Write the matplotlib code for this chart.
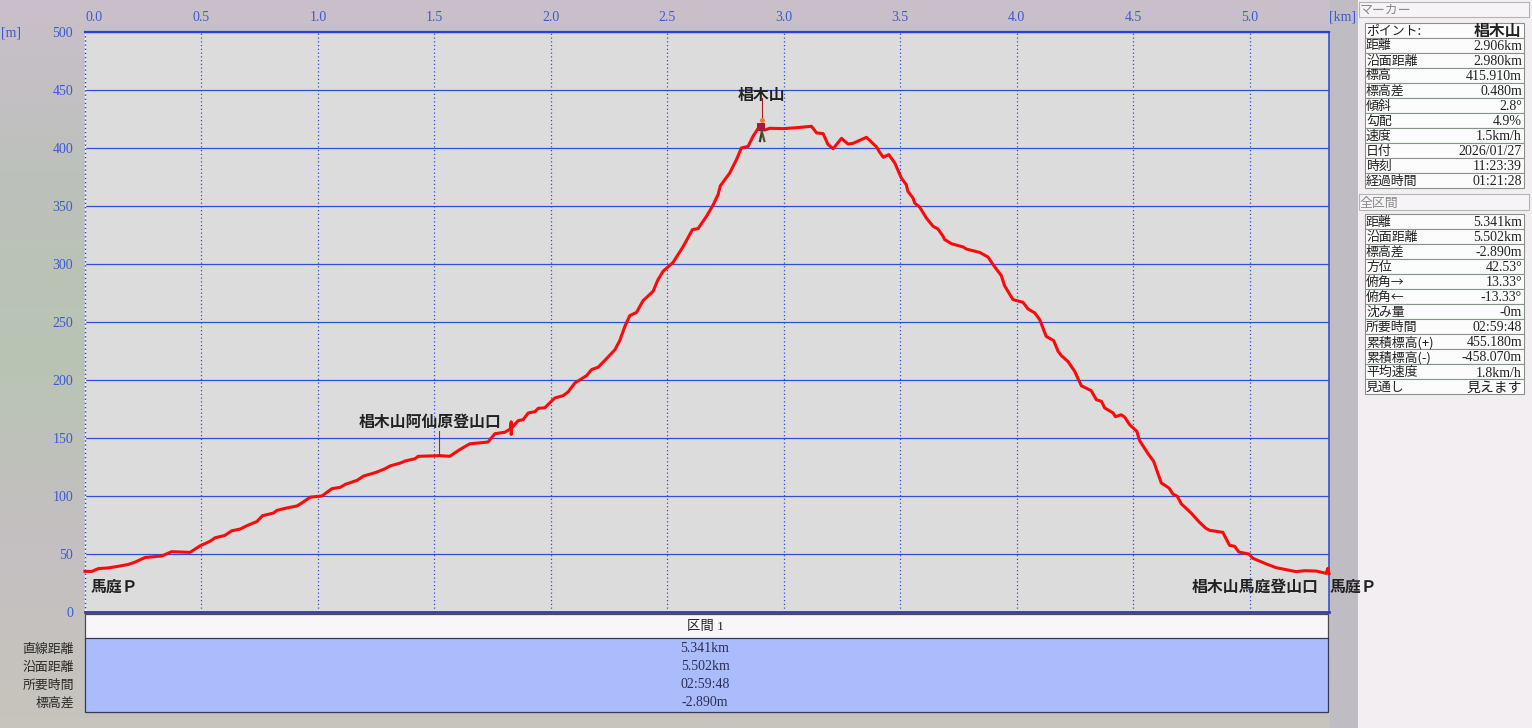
#!/usr/bin/env python3
"""
Elevation profile of the walk, with the marker and section panels on the right.
"""
import matplotlib
matplotlib.use('Agg')
import matplotlib.pyplot as plt
from matplotlib.colors import LinearSegmentedColormap
from matplotlib.patches import Rectangle
import numpy as np

plt.rcParams['font.family'] = ['Noto Sans CJK JP', 'DejaVu Sans']

# Profile
dist_km = [0, .03, .057, .10, .143, .186, .215, .258, .33, .372, .415, .451, .494, .537, .559,
           .60, .63, .666, .695, .738, .762, .809, .824, .86, .91, .931, .967, 1.017, 1.06,
           1.096, 1.117, 1.168, 1.196, 1.232, 1.254, 1.289, 1.311, 1.354, 1.375, 1.418, 1.43,
           1.524, 1.566, 1.609, 1.652, 1.73, 1.76, 1.803, 1.826, 1.83, 1.83, 1.832, 1.86,
           1.881, 1.903, 1.932, 1.946, 1.974, 2.017, 2.053, 2.074, 2.103, 2.153, 2.175, 2.203,
           2.239, 2.275, 2.296, 2.318, 2.339, 2.368, 2.396, 2.439, 2.46, 2.482, 2.525, 2.568,
           2.608, 2.632, 2.668, 2.697, 2.718, 2.728, 2.768, 2.797, 2.818, 2.847, 2.868, 2.897,
           2.918, 2.94, 2.997, 3.054, 3.119, 3.141, 3.169, 3.19, 3.212, 3.248, 3.276, 3.297,
           3.355, 3.398, 3.412, 3.427, 3.451, 3.477, 3.505, 3.526, 3.533, 3.555, 3.562, 3.584,
           3.612, 3.641, 3.662, 3.684, 3.691, 3.72, 3.77, 3.784, 3.841, 3.877, 3.899, 3.934,
           3.948, 3.967, 3.984, 4.027, 4.049, 4.078, 4.099, 4.127, 4.159, 4.178, 4.192, 4.22,
           4.249, 4.264, 4.278, 4.32, 4.342, 4.364, 4.378, 4.414, 4.424, 4.449, 4.464, 4.485,
           4.516, 4.528, 4.564, 4.588, 4.603, 4.621, 4.654, 4.671, 4.69, 4.706, 4.749, 4.785,
           4.811, 4.828, 4.885, 4.914, 4.936, 4.954, 4.997, 5.014, 5.072, 5.114, 5.2, 5.236,
           5.286, 5.329, 5.336, 5.341]
elev_m = [35, 35, 37.4, 38, 39.4, 41, 43, 47, 48.3, 52, 51.7, 51.4, 57, 61, 64,
          66, 70, 71.5, 74.4, 78, 83, 85.3, 87.6, 89.4, 91.4, 94, 99, 100, 106.3,
          107.5, 110, 113.5, 117.2, 119.3, 120.7, 123.6, 126, 128.4, 130.2, 132.2, 134.2,
          134.8, 134.2, 140, 145, 146.5, 153.7, 155, 157.8, 164, 153, 158.6, 165,
          165.8, 171.6, 172.7, 175.6, 176, 184.5, 186.5, 189.7, 197.4, 203.7, 209, 211,
          218.4, 226, 234, 246.3, 255.5, 258.3, 268.4, 276.4, 286.5, 293.7, 301.4, 315,
          329.6, 330.5, 341, 351, 359.8, 367.5, 378.4, 390, 400, 401.4, 410, 419,
          415.5, 417, 416.7, 417.5, 418.7, 413, 412.4, 403, 399.4, 408.3, 403.4, 404,
          409.2, 401, 396.3, 392, 394.3, 387, 374, 368.4, 362.6, 356.9, 352.6, 348.9,
          339.7, 332.5, 330.2, 323.9, 321, 317.5, 314.7, 312.9, 310, 306, 299.4, 290,
          281.3, 275, 269.3, 267, 261.2, 257.8, 252, 237.6, 233.9, 224.7, 221, 216,
          207.5, 200.9, 195, 190.8, 183, 181.6, 175.9, 171.6, 168.4, 170, 168, 161.5,
          155.7, 147.7, 136.5, 129.9, 121.3, 111.2, 106.9, 101.7, 99.7, 93.4, 85.3, 77.3,
          72.4, 70.4, 68.7, 57.5, 56.6, 51.7, 50, 46.3, 41.4, 38.2, 34.8, 35.6,
          35.3, 33.3, 37.6, 33]

x_ticks = [0.0, 0.5, 1.0, 1.5, 2.0, 2.5, 3.0, 3.5, 4.0, 4.5, 5.0]
y_ticks = [0, 50, 100, 150, 200, 250, 300, 350, 400, 450, 500]

place_names = ['馬庭Ｐ', '椙木山阿仙原登山口', '椙木山', '椙木山馬庭登山口', '馬庭Ｐ']
place_x = [0.026, 1.176, 2.906, 4.751, 5.343]
place_m = [21.5, 164, 446, 21.5, 21.5]
place_ha = ['left', 'left', 'center', 'left', 'left']

marker_title = 'マーカー'
marker_head = 'ポイント:'
marker_point = '椙木山'
marker_labels = ['距離', '沿面距離', '標高', '標高差', '傾斜', '勾配', '速度', '日付', '時刻', '経過時間']
marker_values = ['2.906km', '2.980km', '415.910m', '0.480m', '2.8°', '4.9%', '1.5km/h',
                 '2026/01/27', '11:23:39', '01:21:28']

total_title = '全区間'
total_labels = ['距離', '沿面距離', '標高差', '方位', '俯角→', '俯角←', '沈み量', '所要時間',
                '累積標高(+)', '累積標高(-)', '平均速度', '見通し']
total_values = ['5.341km', '5.502km', '-2.890m', '42.53°', '13.33°', '-13.33°', '-0m',
                '02:59:48', '455.180m', '-458.070m', '1.8km/h', '見えます']

section_title = '区間 1'
section_labels = ['直線距離', '沿面距離', '所要時間', '標高差']
section_values = ['5.341km', '5.502km', '02:59:48', '-2.890m']

BLUE = '#2f4fd8'
TICK = '#3c5ad2'
NUM = ['Liberation Serif', 'Noto Sans CJK JP']
CJK = ['Noto Sans CJK JP', 'DejaVu Sans']
W, H = 1532, 728

fig = plt.figure(figsize=(W / 100, H / 100), dpi=100)

# Page layer in pixel coordinates
bg = fig.add_axes([0, 0, 1, 1], zorder=0)
bg.axis('off')
cmap = LinearSegmentedColormap.from_list('page', ['#c9bfca', '#bcc1bb', '#b9c4b4', '#c4bfc2', '#c6c4bc'])
bg.imshow(np.linspace(0, 1, 64)[:, None], cmap=cmap, extent=(0, 1358, H, 0), aspect='auto', zorder=0)
bg.set_xlim(0, W)
bg.set_ylim(H, 0)
bg.add_patch(Rectangle((1330, 0), 28, H, fc='#bfbcc4', ec='none', zorder=1))
bg.add_patch(Rectangle((1358, 0), W - 1358, H, fc='#f2eef2', ec='none', zorder=1))

# Section strip under the plot
bg.add_patch(Rectangle((85, 614), 1243, 25, fc='#f8f6f8', ec='#4a4a4a', lw=0.9, zorder=2))
bg.add_patch(Rectangle((85, 638), 1243, 73.5, fc='#abbcfd', ec='#333a55', lw=0.9, zorder=2))
bg.text(705, 627, section_title, family=NUM, fontsize=9.6, color='#222222', ha='center', va='center', zorder=3)
for row_y, lab, val in zip([649, 667, 685, 703], section_labels, section_values):
    bg.text(74, row_y, lab, family=CJK, fontsize=9.3, color='#2b2b2b', ha='right', va='center')
    bg.text(705, row_y, val, family=NUM, fontsize=10, color='#2a2f55', ha='center', va='center', zorder=3)


def panel(title, title_top, title_h, top, row_h, labels, values):
    bg.add_patch(Rectangle((1359, title_top), 170, title_h, fc='#f6f4f6', ec='#b5b5b5', lw=0.8, zorder=2))
    bg.text(1360, title_top + title_h / 2 + 1, title, family=CJK, fontsize=9.3, color='#8a8a8a',
            ha='left', va='center', zorder=3)
    for i, (lab, val) in enumerate(zip(labels, values)):
        y = top + i * row_h
        bg.add_patch(Rectangle((1365, y), 159, row_h, fc='#fdfcfd', ec='#86948a', lw=0.8, zorder=2))
        bg.text(1366, y + row_h / 2 + 1, lab, family=CJK, fontsize=9.3, color='#222222',
                ha='left', va='center', zorder=3)
        bg.text(1522, y + row_h / 2 + 1.5, val, family=NUM, fontsize=10, color='#222222',
                ha='right', va='center', zorder=3)


panel(marker_title, 2, 15, 22.5, 15, [marker_head] + marker_labels, [''] + marker_values)
bg.text(1521, 31, marker_point, family=CJK, fontsize=11.4, fontweight='bold', color='#222222',
        ha='right', va='center', zorder=3)
panel(total_title, 194, 16, 213.5, 15.05, total_labels, total_values)

bg.text(1, 33, '[m]', family=NUM, fontsize=10, color=TICK, ha='left', va='center')
bg.text(1343, 17, '[km]', family=NUM, fontsize=10, color=TICK, ha='center', va='center')

# Profile plot
ax = fig.add_axes([85 / W, 1 - 612 / H, 1244 / W, 580 / H], zorder=1)
ax.set_facecolor('#dcdcdd')
ax.set_xlim(0, 5.341)
ax.set_ylim(0, 500)
ax.set_xticks(x_ticks)
ax.set_yticks(y_ticks)
ax.set_xticklabels([f'{v:.1f}' for v in x_ticks], family=NUM, fontsize=10, color=TICK)
ax.set_yticklabels([str(v) for v in y_ticks], family=NUM, fontsize=10, color=TICK)
ax.xaxis.tick_top()
ax.tick_params(axis='x', length=0, pad=5.5)
ax.tick_params(axis='y', length=0, pad=8.5)
ax.get_xticklabels()[0].set_ha('left')
ax.grid(True, axis='y', color=BLUE, lw=0.9)
ax.grid(True, axis='x', color=BLUE, lw=0.9, ls=(0, (1, 2)))
ax.set_axisbelow(True)

for side, col, lw in [('top', '#2440e0', 1.6), ('right', '#3a50c8', 1.2),
                      ('bottom', '#3c3ca8', 2.0), ('left', '#f4f4f8', 1.0)]:
    ax.spines[side].set_color(col)
    ax.spines[side].set_linewidth(lw)
ax.axvline(0, color='#2440e0', lw=1.0, ls=(0, (1, 2)), zorder=4, clip_on=False)

ax.plot(dist_km, elev_m, color='#fa0a0a', lw=2.2, solid_joinstyle='round', zorder=3, clip_on=False)

# Leader lines up to the labels
ax.plot([1.519, 1.519], [135, 156], color='#c01818', lw=0.8, zorder=3)
ax.plot([2.906, 2.906], [425, 443], color='#a81c1c', lw=0.8, zorder=3)

for name, px, pm, ha in zip(place_names, place_x, place_m, place_ha):
    ax.text(px, pm, name, family=CJK, fontsize=11.4, fontweight='bold', color='#222222',
            ha=ha, va='center', zorder=5, clip_on=False)

# Little walker on the marker position
ax.plot([2.906], [424], 'o', ms=3.6, color='#e8812a', mew=0, zorder=6)
ax.plot([2.903], [418], 's', ms=5.5, color='#a81c3a', mew=0, zorder=6)
ax.plot([2.906, 2.898], [414, 406], color='#3a3a28', lw=1.6, zorder=6)
ax.plot([2.906, 2.917], [414, 406], color='#5a5238', lw=1.6, zorder=6)

fig.savefig('out.png', dpi=100)
print('Saved: out.png')
